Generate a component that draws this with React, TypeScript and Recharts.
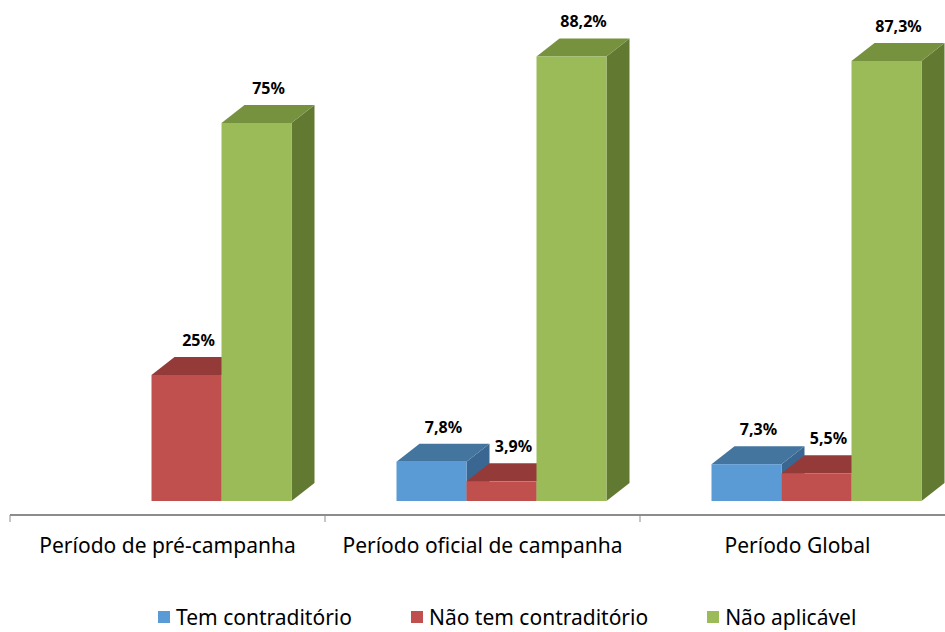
import React from "react";
import { Bar, BarChart, LabelList, Legend, XAxis, YAxis } from "recharts";

const categories = ["Período de pré-campanha", "Período oficial de campanha", "Período Global"];
const temContraditorio = [0, 7.8, 7.3];
const naoTemContraditorio = [25, 3.9, 5.5];
const naoAplicavel = [75, 88.2, 87.3];

const SERIES = [
  { key: "tem", name: "Tem contraditório", values: temContraditorio, front: "#5B9BD5", top: "#44759F", side: "#3A6791" },
  { key: "naoTem", name: "Não tem contraditório", values: naoTemContraditorio, front: "#C0504D", top: "#943B39", side: "#7E3230" },
  { key: "naoAplica", name: "Não aplicável", values: naoAplicavel, front: "#9BBB59", top: "#77923F", side: "#627932" },
];

const data = categories.map((name, i) => {
  const row: Record<string, string | number> = { name };
  SERIES.forEach((s) => (row[s.key] = s.values[i]));
  return row;
});

const W = 955;
const H = 632;
const MARGIN = { top: -3, right: 0, bottom: 0, left: 10 };
const BAND = (W - MARGIN.left - MARGIN.right) / categories.length;
const FONT = "'Noto Sans', 'Open Sans', sans-serif";

// 3D look: bars sit back from the category axis, with an oblique top and side
const SHIFT = 18.5;
const DX = 23;
const DY = -18;

const fmt = (v: number) => (Number.isInteger(v) ? `${v}%` : `${v.toFixed(1).replace(".", ",")}%`);

function Box3D(props: any) {
  const { x, y, width, height, front, top, side } = props;
  if (!height || height <= 0) return null;
  const fx = x + SHIFT;
  const r = fx + width;
  const b = y + height;
  return (
    <g>
      <polygon points={`${r},${y} ${r + DX},${y + DY} ${r + DX},${b + DY} ${r},${b}`} fill={side} />
      <polygon points={`${fx},${y} ${r},${y} ${r + DX},${y + DY} ${fx + DX},${y + DY}`} fill={top} />
      <rect x={fx} y={y} width={width} height={height} fill={front} />
    </g>
  );
}

function ValueLabel(props: any) {
  const { x, y, width, value } = props;
  if (!value) return null;
  return (
    <text
      x={x + SHIFT + width / 2 + 12}
      y={y - 35}
      textAnchor="middle"
      dominantBaseline="central"
      fontFamily={FONT}
      fontWeight={700}
      fontSize={16}
      fill="#000"
    >
      {fmt(value)}
    </text>
  );
}

function CategoryTick(props: any) {
  const { x, y, payload } = props;
  const left = x - BAND / 2;
  return (
    <g>
      <line x1={left} x2={left + BAND} y1={y + 14} y2={y + 14} stroke="#8C8C8C" strokeWidth={2} />
      <line x1={left} x2={left} y1={y + 14} y2={y + 21} stroke="#8C8C8C" strokeWidth={1} />
      <text x={x} y={y + 52} textAnchor="middle" fontFamily={FONT} fontSize={21} fill="#000">
        {payload.value}
      </text>
    </g>
  );
}

function LegendContent() {
  return (
    <div style={{ display: "flex", alignItems: "center", height: 30, paddingTop: 3, paddingLeft: 148, fontFamily: FONT, fontSize: 21, color: "#000", gap: 59 }}>
      {SERIES.map((s) => (
        <div key={s.key} style={{ display: "flex", alignItems: "center", gap: 6, lineHeight: "30px" }}>
          <span style={{ width: 12, height: 12, background: s.front, display: "inline-block" }} />
          <span>{s.name}</span>
        </div>
      ))}
    </div>
  );
}

export default function App() {
  return (
    <div style={{ position: "absolute", left: 0, top: 0, width: 945, height: H, overflow: "hidden", background: "#fff" }}>
      <BarChart width={W} height={H} data={data} margin={MARGIN} barGap={0} barSize={70}>
        <XAxis dataKey="name" axisLine={false} tickLine={false} tickSize={0} tickMargin={0} height={98} interval={0} tick={<CategoryTick />} />
        <YAxis hide domain={[0, 100]} />
        <Legend verticalAlign="bottom" height={33} content={<LegendContent />} />
        {SERIES.map((s) => (
          <Bar
            key={s.key}
            dataKey={s.key}
            name={s.name}
            isAnimationActive={false}
            shape={(p: any) => <Box3D {...p} front={s.front} top={s.top} side={s.side} />}
          >
            <LabelList dataKey={s.key} content={<ValueLabel />} />
          </Bar>
        ))}
      </BarChart>
    </div>
  );
}
